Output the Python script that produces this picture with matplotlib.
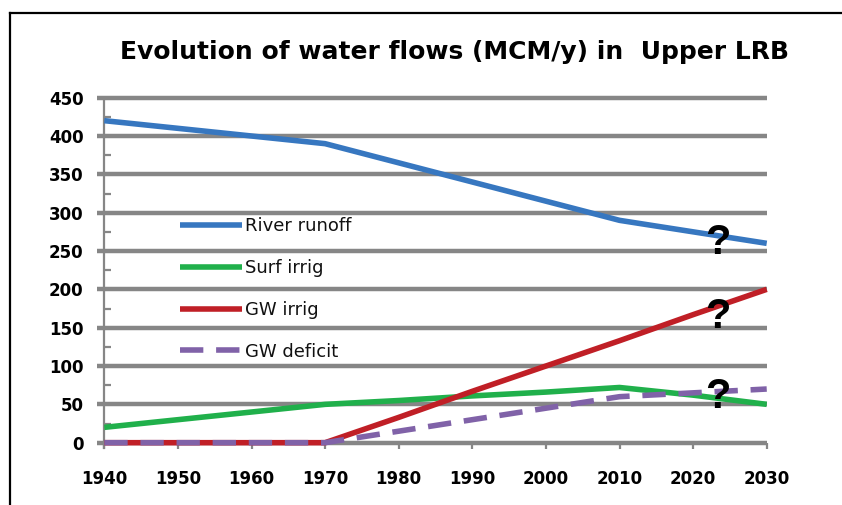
import matplotlib

matplotlib.use("Agg")
import matplotlib.pyplot as plt
from matplotlib.lines import Line2D

# decade values, MCM per year
years = [1940, 1950, 1960, 1970, 1980, 1990, 2000, 2010, 2020, 2030]
river_runoff = [420, 410, 400, 390, 365, 340, 315, 290, 275, 260]
surf_irrig = [20, 30, 40, 50, 55, 61, 66, 72, 62, 50]
gw_irrig = [0, 0, 0, 0, 33, 67, 100, 133, 167, 200]
gw_deficit = [0, 0, 0, 0, 15, 30, 45, 60, 65, 70]

series_names = ["River runoff", "Surf irrig", "GW irrig", "GW deficit"]
y_ticks = list(range(0, 451, 50))

# uncertain future values flagged with a question mark
question_year = 2023.4
question_levels = [261, 164, 59]

title = "Evolution of water flows (MCM/y) in  Upper LRB"

GRID = "#868686"
colors = ["#3777c0", "#20b04b", "#c01f26", "#8062a8"]
FONT = "DejaVu Sans"

fig = plt.figure(figsize=(8.42, 5.05), dpi=100)
ax = fig.add_axes([0.1239, 0.1234, 0.7867, 0.6832])

ax.set_xlim(years[0], years[-1])
ax.set_ylim(0, 450)

# horizontal grid, drawn unclipped so the 0 and 450 lines stay full width
ax.hlines(y_ticks, years[0] - 1.0, years[-1], colors=GRID, linewidth=3.2,
          zorder=0.5, clip_on=False)

lw = 4.0
for vals, name, col in zip([river_runoff, surf_irrig, gw_irrig, gw_deficit],
                           series_names, colors):
    style = dict(color=col, linewidth=lw, label=name, clip_on=False,
                 solid_capstyle="butt", zorder=3)
    if name == "GW deficit":
        style.update(linestyle=(0, (4.2, 2.3)), dash_capstyle="butt")
    ax.plot(years, vals, **style)

for lvl in question_levels:
    ax.text(question_year, lvl, "?", fontsize=30, fontweight="bold",
            family="Liberation Sans", ha="center", va="center",
            color="black", zorder=5)

# axes styling
for side in ["top", "right", "bottom"]:
    ax.spines[side].set_visible(False)
ax.spines["left"].set_color(GRID)
ax.spines["left"].set_linewidth(1.6)
ax.spines["left"].set_bounds(-7, 450)

ax.set_yticks(y_ticks)
ax.set_yticks(range(25, 451, 50), minor=True)
ax.set_xticks(years)
ax.tick_params(axis="y", which="major", direction="out", length=0, pad=15,
               labelsize=12)
ax.tick_params(axis="y", which="minor", direction="in", length=5, width=1.6,
               color=GRID)
ax.tick_params(axis="x", which="major", direction="out", length=4.5, width=1.6,
               color=GRID, pad=15, labelsize=12)
for lab in ax.get_xticklabels() + ax.get_yticklabels():
    lab.set_fontweight("bold")
    lab.set_family(FONT)

leg = ax.legend(loc="center left", bbox_to_anchor=(0.104, 0.4455),
                frameon=False, handlelength=3.4, handletextpad=0.2,
                labelspacing=1.32, borderaxespad=0,
                prop={"family": FONT, "size": 13})
for t in leg.get_texts():
    t.set_color("#111111")

fig.text(0.54, 0.897, title, ha="center", va="center", fontsize=18,
         fontweight="bold", family=FONT)

# outer frame lines along the top and left edges
fig.add_artist(Line2D([10 / 842, 1.0], [1 - 12.5 / 505, 1 - 12.5 / 505],
                      color="black", linewidth=1.6))
fig.add_artist(Line2D([10 / 842, 10 / 842], [0, 1 - 12.5 / 505],
                      color="black", linewidth=1.6))

fig.savefig("out.png", dpi=100)
